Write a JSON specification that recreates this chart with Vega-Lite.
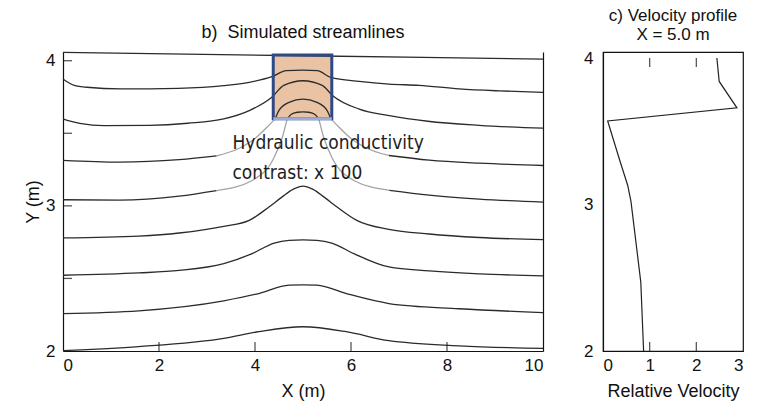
{
  "$schema": "https://vega.github.io/schema/vega-lite/v6.json",
  "background": "white",
  "padding": {"left": 24, "top": 6, "right": 4, "bottom": 2},
  "spacing": 36,
  "config": {
    "font": "Liberation Sans",
    "view": {"stroke": null},
    "axis": {
      "grid": false,
      "ticks": false,
      "domainColor": "#111111",
      "labelColor": "#111111",
      "titleColor": "#111111",
      "labelFontSize": 17,
      "titleFontSize": 18,
      "titleFontWeight": "normal",
      "domainWidth": 1.2
    },
    "title": {"fontSize": 17, "fontWeight": "normal", "color": "#111111", "lineHeight": 19},
    "tick": {"color": "#111111", "thickness": 1.3}
  },
  "datasets": {
    "box": [{"x0": 4.38, "x1": 5.6, "y0": 3.6, "y1": 4.04}],
    "note": [
      {"X": 3.53, "Y": 3.39, "t": "Hydraulic conductivity"},
      {"X": 3.53, "Y": 3.186, "t": "contrast: x 100"}
    ],
    "xTicks": [{"X": 2, "Y": 2}, {"X": 4, "Y": 2}, {"X": 6, "Y": 2}, {"X": 8, "Y": 2}],
    "yTicks": [{"X": 0, "Y": 2.5}, {"X": 0, "Y": 3}, {"X": 0, "Y": 3.5}, {"X": 0, "Y": 4}],
    "vTicksBottom": [{"V": 1, "Y": 2}, {"V": 2, "Y": 2}],
    "vTicksTop": [{"V": 1, "Y": 4}, {"V": 2, "Y": 4}],
    "streams": [
      {"seg": "L0", "tone": "dark", "X": 0, "Y": 4.057},
      {"seg": "L0", "tone": "dark", "X": 5, "Y": 4.034},
      {"seg": "L0", "tone": "dark", "X": 10, "Y": 4.011},

      {"seg": "L1", "tone": "dark", "X": 0, "Y": 3.874},
      {"seg": "L1", "tone": "dark", "X": 0.1, "Y": 3.852},
      {"seg": "L1", "tone": "dark", "X": 0.25, "Y": 3.828},
      {"seg": "L1", "tone": "dark", "X": 0.5, "Y": 3.817},
      {"seg": "L1", "tone": "dark", "X": 1.2, "Y": 3.806},
      {"seg": "L1", "tone": "dark", "X": 2.4, "Y": 3.81},
      {"seg": "L1", "tone": "dark", "X": 3.35, "Y": 3.828},
      {"seg": "L1", "tone": "dark", "X": 3.88, "Y": 3.851},
      {"seg": "L1", "tone": "dark", "X": 4.35, "Y": 3.89},
      {"seg": "L1", "tone": "dark", "X": 4.65, "Y": 3.931},
      {"seg": "L1", "tone": "dark", "X": 5.0, "Y": 3.935},
      {"seg": "L1", "tone": "dark", "X": 5.3, "Y": 3.931},
      {"seg": "L1", "tone": "dark", "X": 5.58, "Y": 3.885},
      {"seg": "L1", "tone": "dark", "X": 6.17, "Y": 3.858},
      {"seg": "L1", "tone": "dark", "X": 6.79, "Y": 3.839},
      {"seg": "L1", "tone": "dark", "X": 7.42, "Y": 3.83},
      {"seg": "L1", "tone": "dark", "X": 8.25, "Y": 3.806},
      {"seg": "L1", "tone": "dark", "X": 9.1, "Y": 3.792},
      {"seg": "L1", "tone": "dark", "X": 10, "Y": 3.782},

      {"seg": "L2", "tone": "dark", "X": 0, "Y": 3.599},
      {"seg": "L2", "tone": "dark", "X": 0.15, "Y": 3.583},
      {"seg": "L2", "tone": "dark", "X": 0.35, "Y": 3.569},
      {"seg": "L2", "tone": "dark", "X": 0.85, "Y": 3.553},
      {"seg": "L2", "tone": "dark", "X": 1.79, "Y": 3.555},
      {"seg": "L2", "tone": "dark", "X": 2.6, "Y": 3.569},
      {"seg": "L2", "tone": "dark", "X": 3.35, "Y": 3.599},
      {"seg": "L2", "tone": "dark", "X": 3.88, "Y": 3.656},
      {"seg": "L2", "tone": "dark", "X": 4.35, "Y": 3.748},
      {"seg": "L2", "tone": "dark", "X": 4.6, "Y": 3.83},
      {"seg": "L2", "tone": "dark", "X": 5.0, "Y": 3.862},
      {"seg": "L2", "tone": "dark", "X": 5.4, "Y": 3.83},
      {"seg": "L2", "tone": "dark", "X": 5.62, "Y": 3.759},
      {"seg": "L2", "tone": "dark", "X": 6.17, "Y": 3.667},
      {"seg": "L2", "tone": "dark", "X": 6.8, "Y": 3.622},
      {"seg": "L2", "tone": "dark", "X": 7.6, "Y": 3.583},
      {"seg": "L2", "tone": "dark", "X": 8.67, "Y": 3.555},
      {"seg": "L2", "tone": "dark", "X": 10, "Y": 3.535},

      {"seg": "L3a", "tone": "dark", "X": 0, "Y": 3.313},
      {"seg": "L3a", "tone": "dark", "X": 1.17, "Y": 3.301},
      {"seg": "L3a", "tone": "dark", "X": 2.42, "Y": 3.318},
      {"seg": "L3a", "tone": "dark", "X": 3.2, "Y": 3.344},
      {"seg": "L3b", "tone": "gray", "X": 3.2, "Y": 3.344},
      {"seg": "L3b", "tone": "gray", "X": 3.67, "Y": 3.397},
      {"seg": "L3b", "tone": "gray", "X": 3.98, "Y": 3.459},
      {"seg": "L3b", "tone": "gray", "X": 4.25, "Y": 3.542},
      {"seg": "L3b", "tone": "gray", "X": 4.42, "Y": 3.599},
      {"seg": "L3c", "tone": "dark", "X": 4.42, "Y": 3.599},
      {"seg": "L3c", "tone": "dark", "X": 4.5, "Y": 3.658},
      {"seg": "L3c", "tone": "dark", "X": 4.71, "Y": 3.713},
      {"seg": "L3c", "tone": "dark", "X": 5.0, "Y": 3.736},
      {"seg": "L3c", "tone": "dark", "X": 5.29, "Y": 3.713},
      {"seg": "L3c", "tone": "dark", "X": 5.5, "Y": 3.658},
      {"seg": "L3c", "tone": "dark", "X": 5.58, "Y": 3.599},
      {"seg": "L3d", "tone": "gray", "X": 5.58, "Y": 3.599},
      {"seg": "L3d", "tone": "gray", "X": 5.75, "Y": 3.542},
      {"seg": "L3d", "tone": "gray", "X": 6.02, "Y": 3.459},
      {"seg": "L3d", "tone": "gray", "X": 6.33, "Y": 3.397},
      {"seg": "L3d", "tone": "gray", "X": 6.79, "Y": 3.347},
      {"seg": "L3e", "tone": "dark", "X": 6.79, "Y": 3.347},
      {"seg": "L3e", "tone": "dark", "X": 7.63, "Y": 3.315},
      {"seg": "L3e", "tone": "dark", "X": 8.67, "Y": 3.294},
      {"seg": "L3e", "tone": "dark", "X": 10, "Y": 3.278},

      {"seg": "L4a", "tone": "dark", "X": 0, "Y": 3.042},
      {"seg": "L4a", "tone": "dark", "X": 1.17, "Y": 3.04},
      {"seg": "L4a", "tone": "dark", "X": 2.42, "Y": 3.067},
      {"seg": "L4a", "tone": "dark", "X": 3.2, "Y": 3.105},
      {"seg": "L4b", "tone": "gray", "X": 3.2, "Y": 3.105},
      {"seg": "L4b", "tone": "gray", "X": 3.94, "Y": 3.175},
      {"seg": "L4b", "tone": "gray", "X": 4.4, "Y": 3.335},
      {"seg": "L4b", "tone": "gray", "X": 4.57, "Y": 3.473},
      {"seg": "L4b", "tone": "gray", "X": 4.67, "Y": 3.599},
      {"seg": "L4c", "tone": "dark", "X": 4.67, "Y": 3.599},
      {"seg": "L4c", "tone": "dark", "X": 4.75, "Y": 3.63},
      {"seg": "L4c", "tone": "dark", "X": 4.88, "Y": 3.645},
      {"seg": "L4c", "tone": "dark", "X": 5.0, "Y": 3.648},
      {"seg": "L4c", "tone": "dark", "X": 5.12, "Y": 3.645},
      {"seg": "L4c", "tone": "dark", "X": 5.25, "Y": 3.63},
      {"seg": "L4c", "tone": "dark", "X": 5.33, "Y": 3.599},
      {"seg": "L4d", "tone": "gray", "X": 5.33, "Y": 3.599},
      {"seg": "L4d", "tone": "gray", "X": 5.43, "Y": 3.473},
      {"seg": "L4d", "tone": "gray", "X": 5.6, "Y": 3.335},
      {"seg": "L4d", "tone": "gray", "X": 6.06, "Y": 3.175},
      {"seg": "L4d", "tone": "gray", "X": 6.8, "Y": 3.107},
      {"seg": "L4e", "tone": "dark", "X": 6.8, "Y": 3.107},
      {"seg": "L4e", "tone": "dark", "X": 7.63, "Y": 3.074},
      {"seg": "L4e", "tone": "dark", "X": 8.67, "Y": 3.047},
      {"seg": "L4e", "tone": "dark", "X": 10, "Y": 3.026},

      {"seg": "L5", "tone": "dark", "X": 0, "Y": 2.779},
      {"seg": "L5", "tone": "dark", "X": 1.58, "Y": 2.792},
      {"seg": "L5", "tone": "dark", "X": 2.42, "Y": 2.813},
      {"seg": "L5", "tone": "dark", "X": 3.35, "Y": 2.859},
      {"seg": "L5", "tone": "dark", "X": 3.88, "Y": 2.9},
      {"seg": "L5", "tone": "dark", "X": 4.29, "Y": 2.992},
      {"seg": "L5", "tone": "dark", "X": 4.56, "Y": 3.06},
      {"seg": "L5", "tone": "dark", "X": 4.8, "Y": 3.115},
      {"seg": "L5", "tone": "dark", "X": 5.0, "Y": 3.136},
      {"seg": "L5", "tone": "dark", "X": 5.2, "Y": 3.115},
      {"seg": "L5", "tone": "dark", "X": 5.44, "Y": 3.06},
      {"seg": "L5", "tone": "dark", "X": 5.71, "Y": 2.992},
      {"seg": "L5", "tone": "dark", "X": 6.12, "Y": 2.9},
      {"seg": "L5", "tone": "dark", "X": 6.79, "Y": 2.838},
      {"seg": "L5", "tone": "dark", "X": 7.63, "Y": 2.806},
      {"seg": "L5", "tone": "dark", "X": 8.67, "Y": 2.782},
      {"seg": "L5", "tone": "dark", "X": 10, "Y": 2.767},

      {"seg": "L6", "tone": "dark", "X": 0, "Y": 2.522},
      {"seg": "L6", "tone": "dark", "X": 1.58, "Y": 2.538},
      {"seg": "L6", "tone": "dark", "X": 2.42, "Y": 2.555},
      {"seg": "L6", "tone": "dark", "X": 3.35, "Y": 2.602},
      {"seg": "L6", "tone": "dark", "X": 3.94, "Y": 2.671},
      {"seg": "L6", "tone": "dark", "X": 4.4, "Y": 2.744},
      {"seg": "L6", "tone": "dark", "X": 4.71, "Y": 2.762},
      {"seg": "L6", "tone": "dark", "X": 5.0, "Y": 2.765},
      {"seg": "L6", "tone": "dark", "X": 5.29, "Y": 2.762},
      {"seg": "L6", "tone": "dark", "X": 5.6, "Y": 2.744},
      {"seg": "L6", "tone": "dark", "X": 6.06, "Y": 2.671},
      {"seg": "L6", "tone": "dark", "X": 6.79, "Y": 2.579},
      {"seg": "L6", "tone": "dark", "X": 7.63, "Y": 2.552},
      {"seg": "L6", "tone": "dark", "X": 8.67, "Y": 2.531},
      {"seg": "L6", "tone": "dark", "X": 10, "Y": 2.518},

      {"seg": "L7", "tone": "dark", "X": 0, "Y": 2.258},
      {"seg": "L7", "tone": "dark", "X": 1.58, "Y": 2.277},
      {"seg": "L7", "tone": "dark", "X": 3.35, "Y": 2.346},
      {"seg": "L7", "tone": "dark", "X": 4.08, "Y": 2.396},
      {"seg": "L7", "tone": "dark", "X": 4.71, "Y": 2.454},
      {"seg": "L7", "tone": "dark", "X": 5.0, "Y": 2.456},
      {"seg": "L7", "tone": "dark", "X": 5.29, "Y": 2.454},
      {"seg": "L7", "tone": "dark", "X": 5.92, "Y": 2.394},
      {"seg": "L7", "tone": "dark", "X": 6.79, "Y": 2.327},
      {"seg": "L7", "tone": "dark", "X": 8.25, "Y": 2.291},
      {"seg": "L7", "tone": "dark", "X": 10, "Y": 2.265},

      {"seg": "L8", "tone": "dark", "X": 0, "Y": 2.002},
      {"seg": "L8", "tone": "dark", "X": 1.58, "Y": 2.03},
      {"seg": "L8", "tone": "dark", "X": 3.35, "Y": 2.087},
      {"seg": "L8", "tone": "dark", "X": 4.08, "Y": 2.133},
      {"seg": "L8", "tone": "dark", "X": 5.0, "Y": 2.167},
      {"seg": "L8", "tone": "dark", "X": 5.9, "Y": 2.133},
      {"seg": "L8", "tone": "dark", "X": 6.79, "Y": 2.071},
      {"seg": "L8", "tone": "dark", "X": 8.25, "Y": 2.036},
      {"seg": "L8", "tone": "dark", "X": 10, "Y": 2.018}
    ],
    "velocity": [
      {"V": 2.44, "Y": 4.0},
      {"V": 2.49, "Y": 3.84},
      {"V": 2.87, "Y": 3.66},
      {"V": 0.1, "Y": 3.57},
      {"V": 0.37, "Y": 3.29},
      {"V": 0.53, "Y": 3.13},
      {"V": 0.6, "Y": 3.02},
      {"V": 0.81, "Y": 2.47},
      {"V": 0.87, "Y": 2.0}
    ]
  },
  "hconcat": [
    {
      "width": 480,
      "height": 299,
      "title": {"text": "b)\u00a0 Simulated streamlines", "offset": 8, "fontSize": 18},
      "layer": [
        {
          "data": {"name": "box"},
          "mark": {"type": "rect", "fill": "#EAC3A5", "stroke": null},
          "encoding": {
            "x": {
              "field": "x0", "type": "quantitative",
              "scale": {"domain": [0, 10], "nice": false},
              "axis": {"values": [0, 2, 4, 6, 8, 10], "labelPadding": 6, "title": "X (m)", "titlePadding": 9}
            },
            "x2": {"field": "x1"},
            "y": {
              "field": "y0", "type": "quantitative",
              "scale": {"domain": [2, 4.06], "nice": false, "zero": false},
              "axis": {"values": [2, 3, 4], "format": ".0f", "labelPadding": 8, "title": "Y (m)", "titlePadding": 3}
            },
            "y2": {"field": "y1"}
          }
        },
        {
          "data": {"name": "streams"},
          "mark": {"type": "line", "interpolate": "monotone", "strokeWidth": 1.3},
          "encoding": {
            "x": {"field": "X", "type": "quantitative", "axis": null},
            "y": {"field": "Y", "type": "quantitative", "axis": {"orient": "right", "labels": false, "title": null}},
            "detail": {"field": "seg"},
            "color": {"field": "tone", "type": "nominal", "scale": {"domain": ["dark", "gray"], "range": ["#2b2b2b", "#a3a3a3"]}, "legend": null}
          }
        },
        {
          "data": {"name": "box"},
          "mark": {"type": "rect", "fill": "transparent", "stroke": "#2E4A86", "strokeWidth": 3},
          "encoding": {
            "x": {"field": "x0", "type": "quantitative", "axis": null},
            "x2": {"field": "x1"},
            "y": {"field": "y0", "type": "quantitative", "axis": null},
            "y2": {"field": "y1"}
          }
        },
        {
          "data": {"name": "box"},
          "mark": {"type": "rule", "stroke": "#9DABD6", "strokeWidth": 3},
          "encoding": {
            "x": {"field": "x0", "type": "quantitative", "axis": null},
            "x2": {"field": "x1"},
            "y": {"field": "y0", "type": "quantitative", "axis": null}
          }
        },
        {
          "data": {"name": "xTicks"},
          "mark": {"type": "tick", "orient": "vertical", "size": 9, "yOffset": -4.5},
          "encoding": {
            "x": {"field": "X", "type": "quantitative", "axis": null},
            "y": {"field": "Y", "type": "quantitative", "axis": null}
          }
        },
        {
          "data": {"name": "yTicks"},
          "mark": {"type": "tick", "orient": "horizontal", "size": 9, "xOffset": 4.5},
          "encoding": {
            "x": {"field": "X", "type": "quantitative", "axis": null},
            "y": {"field": "Y", "type": "quantitative", "axis": null}
          }
        },
        {
          "data": {"name": "note"},
          "mark": {"type": "text", "align": "left", "baseline": "alphabetic", "font": "Liberation Sans Narrow, DejaVu Sans Condensed, Roboto Condensed, Liberation Sans", "fontSize": 19, "color": "#1e1e1e"},
          "encoding": {
            "x": {"field": "X", "type": "quantitative", "axis": null},
            "y": {"field": "Y", "type": "quantitative", "axis": null},
            "text": {"field": "t"}
          }
        }
      ],
      "resolve": {"axis": {"y": "independent", "x": "independent"}}
    },
    {
      "width": 140,
      "height": 299,
      "view": {"stroke": "#111111", "strokeWidth": 1.2},
      "title": {"text": ["c) Velocity profile", "X = 5.0 m"], "offset": 5},
      "layer": [
        {
          "data": {"name": "velocity"},
          "mark": {"type": "line", "strokeWidth": 1.2, "color": "#222222"},
          "encoding": {
            "x": {
              "field": "V", "type": "quantitative",
              "scale": {"domain": [0, 3], "nice": false},
              "axis": {"values": [0, 1, 2, 3], "labelPadding": 6, "title": "Relative Velocity", "titlePadding": 9}
            },
            "y": {
              "field": "Y", "type": "quantitative",
              "scale": {"domain": [2, 4.041], "nice": false, "zero": false},
              "axis": {"values": [2, 3, 4], "format": ".0f", "labelPadding": 10, "title": null}
            },
            "order": {"field": "Y", "sort": "descending"}
          }
        },
        {
          "data": {"name": "vTicksBottom"},
          "mark": {"type": "tick", "orient": "vertical", "size": 9, "yOffset": -4.5},
          "encoding": {
            "x": {"field": "V", "type": "quantitative"},
            "y": {"field": "Y", "type": "quantitative"}
          }
        },
        {
          "data": {"name": "vTicksTop"},
          "mark": {"type": "tick", "orient": "vertical", "size": 9, "yOffset": 4.5},
          "encoding": {
            "x": {"field": "V", "type": "quantitative"},
            "y": {"field": "Y", "type": "quantitative"}
          }
        }
      ]
    }
  ]
}
